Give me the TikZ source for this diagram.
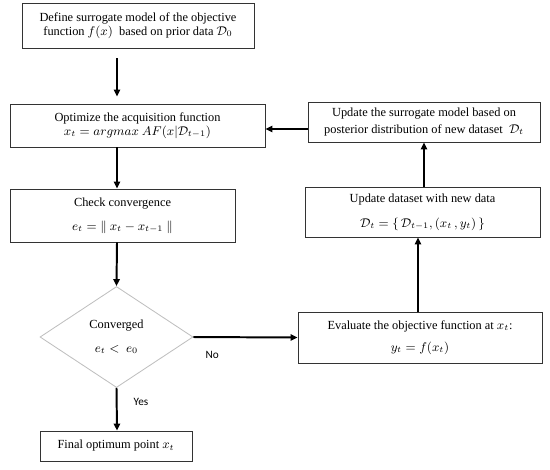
\documentclass[tikz,border=0pt]{standalone}
\usepackage{fontspec}
\setmainfont{Liberation Serif}
\newfontfamily\labelfont{Carlito}
\usepackage{amsmath}
\usetikzlibrary{arrows.meta,shapes.geometric}
\usetikzlibrary{positioning}

\begin{document}
\begin{tikzpicture}[x=0.025cm,y=-0.025cm,
  stepbox/.style={rectangle,draw=black!80,line width=0.6pt,fill=white,align=center,inner sep=0pt,font=\fontsize{8.8}{10}\selectfont},
  decbox/.style={diamond,draw=black!25,line width=0.6pt,align=center,inner sep=0pt,font=\fontsize{8.8}{10}\selectfont},
  arr/.style={line width=1.4pt,-{Triangle[length=5pt,width=4.5pt]}},
  ans/.style={font=\labelfont\fontsize{8}{10}\selectfont}]
\useasboundingbox (0,0) rectangle (550,469);
\coordinate (colL) at (117,0);
\coordinate (colR) at (418,0);
\coordinate (colS) at (424,0);
\coordinate (rowS) at (0,129);
% left column
\node at (138,25.5)[stepbox,minimum width=232*0.025cm,minimum height=45*0.025cm](define){Define surrogate model of the objective\\function $f(x)$ \ based on prior data $\mathcal{D}_0$};
\node at (137.5,125.5)[stepbox,minimum width=255*0.025cm,minimum height=43*0.025cm](optim){Optimize the acquisition function\\$x_t = argmax\ AF(x|\mathcal{D}_{t-1})$};
\node at (122.5,215.5)[stepbox,minimum width=225*0.025cm,minimum height=53*0.025cm](check){Check convergence\\[7pt]$e_t =\| \ x_t - x_{t-1} \ \|$};
\node at (116.5,337)[decbox,minimum width=153*0.025cm,minimum height=101*0.025cm,aspect=1.5](conv){Converged\\[7pt]$e_t <\ e_0$};
\node at (116,446)[stepbox,minimum width=152*0.025cm,minimum height=30*0.025cm](final){Final optimum point $x_t$};
% right column
\node at (420,337.5)[stepbox,minimum width=244*0.025cm,minimum height=51*0.025cm](evalf){Evaluate the objective function at $x_t$:\\[5.5pt]$y_t = f(x_t)$};
\node at (422.5,212)[stepbox,minimum width=235*0.025cm,minimum height=50*0.025cm](dataset){Update dataset with new data\\[8pt]$\mathcal{D}_t = \{\, \mathcal{D}_{t-1}, (x_t\,, y_t)\,\}$};
\node at (424,122)[stepbox,minimum width=232*0.025cm,minimum height=40*0.025cm](surr){Update the surrogate model based on\\[2pt]posterior distribution of new dataset \ $\mathcal{D}_t$};
% connectors
\draw[arr,shorten <=5\pgflinewidth,shorten >=5pt] (define.south -| colL) -- (optim.north -| colL);
\draw[arr] (optim.south -| colL) -- (check.north -| colL);
\draw[arr] (check.south -| colL) -- (conv.north);
\draw[arr] (conv.south) -- (final.north -| colL);
\draw[arr] (conv.east) -- node[ans,below=6pt,pos=0.18]{No} (evalf.west);
\draw[arr] (evalf.north -| colR) -- (dataset.south -| colR);
\draw[arr] (dataset.north -| colS) -- (surr.south -| colS);
\draw[arr] (surr.west |- rowS) -- (optim.east |- rowS);
\node at (141,402)[ans](yes){Yes};
\end{tikzpicture}
\end{document}
